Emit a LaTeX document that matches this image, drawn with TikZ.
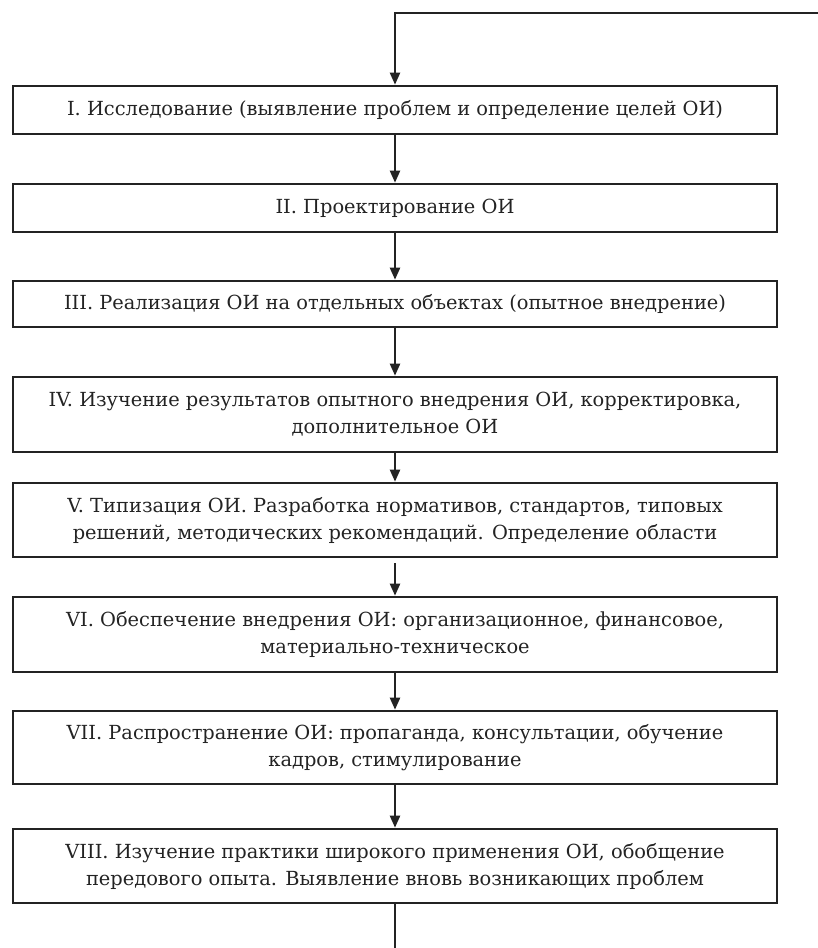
\documentclass[tikz,border=0pt]{standalone}
\usepackage{fontspec}
\setmainfont{DejaVu Serif}
\usetikzlibrary{arrows.meta}
\definecolor{ink}{RGB}{35,35,35}
\begin{document}
\begin{tikzpicture}[x=1pt,y=-1pt,
  stage/.style={draw=ink, line width=2.6pt, minimum width=764pt, inner sep=0pt,
    align=center, text=ink, font=\fontsize{19.4}{27}\selectfont},
  flow/.style={line width=2.2pt, draw=ink, -{Triangle[length=12pt,width=10pt]}},
  plainline/.style={line width=2.2pt, draw=ink}]
\useasboundingbox (0,0) rectangle (818,948);
\node[stage, minimum height=48pt] (s1) at (395,110) {I. Исследование (выявление проблем и определение целей ОИ)};
\node[stage, minimum height=48pt] (s2) at (395,208) {II. Проектирование ОИ};
\node[stage, minimum height=46pt] (s3) at (395,304) {III. Реализация ОИ на отдельных объектах (опытное внедрение)};
\node[stage, minimum height=75pt] (s4) at (395,414.5) {IV. Изучение результатов опытного внедрения ОИ, корректировка,\\дополнительное ОИ};
\node[stage, minimum height=74pt] (s5) at (395,520) {V. Типизация ОИ. Разработка нормативов, стандартов, типовых\\решений, методических рекомендаций. Определение области};
\node[stage, minimum height=75pt] (s6) at (395,634.5) {VI. Обеспечение внедрения ОИ: организационное, финансовое,\\материально-техническое};
\node[stage, minimum height=73pt] (s7) at (395,747.5) {VII. Распространение ОИ: пропаганда, консультации, обучение\\кадров, стимулирование};
\node[stage, minimum height=74pt] (s8) at (395,866) {VIII. Изучение практики широкого применения ОИ, обобщение\\передового опыта. Выявление вновь возникающих проблем};
\coordinate (tr) at (818,13);
\coordinate (tc) at (395,13);
\coordinate (bot) at (395,948);
\draw[flow] (tr) -- (tc) -- (s1.north);
\draw[flow] (s1) -- (s2);
\draw[flow] (s2) -- (s3);
\draw[flow] (s3) -- (s4);
\draw[flow] (s4) -- (s5);
\draw[flow] ([yshift=-5pt]s5.south) -- (s6.north);
\draw[flow] (s6) -- (s7);
\draw[flow] (s7) -- (s8);
\draw[plainline] (s8.south) -- (bot);
\end{tikzpicture}
\end{document}
